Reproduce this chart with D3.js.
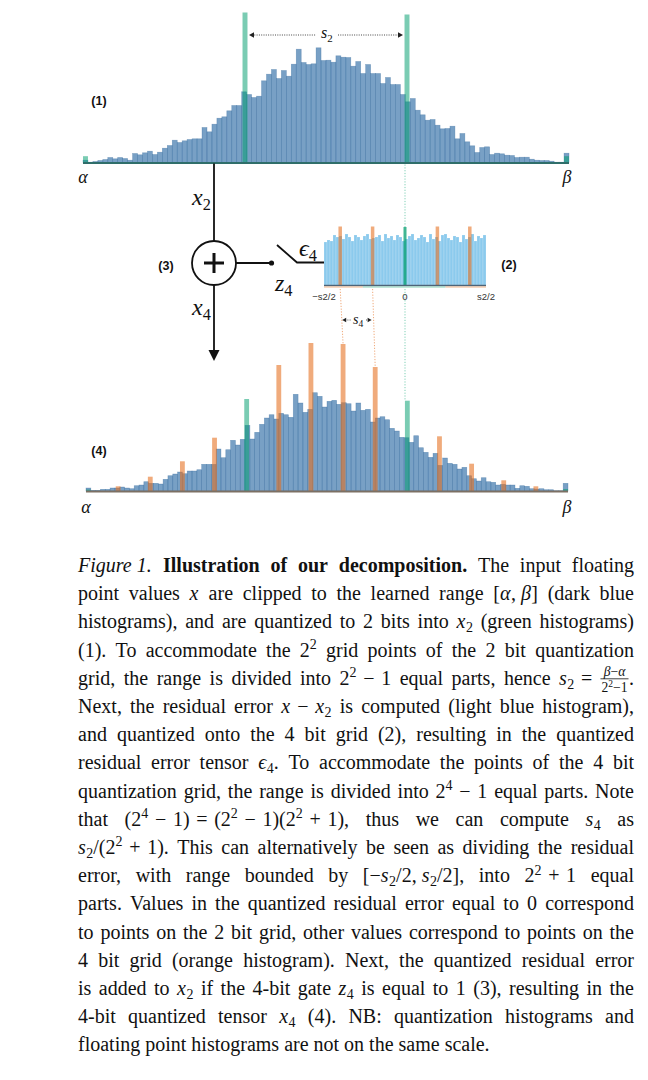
<!DOCTYPE html>
<html><head><meta charset="utf-8">
<script src="https://cdn.jsdelivr.net/npm/d3@7"></script>
<style>body{margin:0;background:#fff}svg{display:block}</style>
</head><body><svg id="c" width="648" height="1080"></svg>
<script>
// ---------------- data ----------------
// (1) floating point histogram, clipped to [alpha, beta]
const topCounts = [2.3,0.3,1,2,3,5,3.7,5,4,2.3,9,7.7,9.7,11.3,8,10.3,14.3,17,22.3,20,21.7,23,23.7,23.7,35,30.7,38.3,44.3,45.7,51.7,57,57,70.7,68,
 65,66.3,81.7,88.3,93,84,92,86.3,98.3,113.3,100,98,98.7,114.7,102,102.3,100.3,106.7,105.3,105,96.3,101,89,98,89,89,79,85,78,78,68,60.7,
 64,52.3,47.7,42.3,43,37.3,33.7,34,36.3,23.7,29,20.7,16.7,10,15,15.7,8,9.3,8.7,7.3,7,5,5.3,5.3,3.3,2.3,2,2,1.3,0.3,0.3,9.3];
const grid2Values = [0, 1/3, 2/3, 1];
const topGrid2Counts = [6.3, 150, 148, 6.3];

// (2) residual error histogram, range [-s2/2, s2/2] in units of s4
const residualCounts = [43,45,44,50,48,49,46,51,48,44,50,48,45,49,51,46,47,48,50,44,51,47,49,45,50,48,44,46,49,51,45,47,50,48,43,51,46,48,44,50,51,47,45,49,48,43,50,46,48,51,44,49,47,50];
const residualOrangeValues = [-2, -1, 1, 2];
const residualOrangeCounts = [58.5, 58.5, 58.5, 58.5];
const residualGreenValues = [0];
const residualGreenCounts = [58];
const residualTickLabels = ["\u2212s2/2", "0", "s2/2"];

// (4) 4-bit quantized histogram
const bottomCounts = [3,0.7,0.7,1.7,1.7,3,3,4,3,2.3,5.3,6,9.3,7.7,7.7,7,11.7,15.3,17,19,17.3,20,20,21.3,26.7,26.7,26.7,42,33.3,41.3,50.7,46,51.7,65.7,
 52,58.7,66.7,73,76.3,72,77.7,76.3,73.7,96.7,88,78.7,81.7,98.3,94.7,84,89.7,90.7,86.7,88.3,87.3,80,88,80.7,81.7,69,73,74.3,71.3,62.7,60,53.7,53.3,
 48.7,55.3,43.3,38.7,33.7,37.7,25.7,33,27.7,26.7,22,23.7,15.3,12.3,10,13.3,9.3,8.7,6,6.7,6,6,2.7,5.3,4.7,2.3,2,2.3,1.3,1.3,0.3,0.3,7.7];
const bottomGrid2Counts = [1.5, 92, 90.3, 2];
const grid4Steps = [1,2,3,4,6,7,8,9,11,12,13,14]; // k/15
const bottomGrid4Counts = [4.7,14.3,29.7,53.3,126,148,147,124,54.7,27.3,10.7,4.7];

// "~" = normal fixed space, "`" = math operator space
const captionLines = [
 "*Figure~1.* #Illustration of our decomposition.# The input floating",
 "point values *x* are clipped to the learned range [*α*,~*β*] (dark blue",
 "histograms), and are quantized to 2 bits into *x*_2 (green histograms)",
 "(1). To accommodate the 2^2 grid points of the 2 bit quantization",
 "grid, the range is divided into 2^2`−`1 equal parts, hence *s*_2`=`@.",
 "Next, the residual error *x*`−`*x*_2 is computed (light blue histogram),",
 "and quantized onto the 4 bit grid (2), resulting in the quantized",
 "residual error tensor *ϵ*_4. To accommodate the points of the 4 bit",
 "quantization grid, the range is divided into 2^4`−`1 equal parts. Note",
 "that (2^4`−`1)`=`(2^2`−`1)(2^2`+`1), thus we can compute *s*_4 as",
 "*s*_2/(2^2`+`1). This can alternatively be seen as dividing the residual",
 "error, with range bounded by [−*s*_2/2,~*s*_2/2], into 2^2`+`1 equal",
 "parts. Values in the quantized residual error equal to 0 correspond",
 "to points on the 2 bit grid, other values correspond to points on the",
 "4 bit grid (orange histogram). Next, the quantized residual error",
 "is added to *x*_2 if the 4-bit gate *z*_4 is equal to 1 (3), resulting in the",
 "4-bit quantized tensor *x*_4 (4). NB: quantization histograms and",
 "floating point histograms are not on the same scale."
];

// ---------------- styles ----------------
const BLUE = "#3f78ad", BLUE_OP = 0.7;
const GREEN = "#009e6e", GREEN_OP = 0.52;
const ORANGE = "#e66e1e", ORANGE_OP = 0.58;
const LBLUE = "#5ab4e5", LBLUE_OP = 0.7;
const SERIF = "'Liberation Serif','Times New Roman',serif";
const SANS = "'Liberation Sans',Arial,sans-serif";

const svg = d3.select("#c");

// ---------------- helpers ----------------
function histBars(g, counts, x, y) {
  const [d0, d1] = x.domain();
  const w = (d1 - d0) / counts.length;
  g.append("g").selectAll("rect").data(counts).join("rect")
    .attr("x", (d, i) => x(d0 + i * w))
    .attr("width", (d, i) => x(d0 + (i + 1) * w) - x(d0 + i * w))
    .attr("y", d => y(d)).attr("height", d => y(0) - y(d));
  return w;
}
function gridBars(g, values, counts, x, y, bw, color, op) {
  const [r0, r1] = x.range();
  g.append("g").selectAll("rect").data(values).join("rect")
    .attr("x", v => Math.max(r0, Math.min(r1 - bw, x(v) - bw / 2)))
    .attr("width", bw)
    .attr("y", (v, i) => y(counts[i])).attr("height", (v, i) => y(0) - y(counts[i]))
    .attr("fill", color).attr("fill-opacity", op);
}
function mathLabel(g, x, y, main, sub, fs) {
  const t = g.append("text").attr("x", x).attr("y", y)
    .attr("font-family", SERIF).attr("font-style", "italic").attr("font-size", fs).attr("fill", "#111");
  t.append("tspan").text(main);
  t.append("tspan").attr("font-style", "normal").attr("font-size", fs * 0.68).attr("dy", fs * 0.22).text(sub);
  return t;
}
function arrowHead(g, x, y, dir, size) {
  g.append("path").attr("d", `M${x},${y} l${-dir * size},${-size * 0.55} l0,${size * 1.1} Z`).attr("fill", "#222");
}
function boldLabel(x, y, t) {
  svg.append("text").attr("x", x).attr("y", y).attr("font-family", SANS).attr("font-weight", "bold")
    .attr("font-size", 12.5).attr("text-anchor", "middle").attr("fill", "#111").text(t);
}

// ---------------- (1) top histogram ----------------
const xTop = d3.scaleLinear().domain([0, 1]).range([83, 569]);
const yTop = d3.scaleLinear().domain([0, 150]).range([162.5, 12.5]);
const gT = svg.append("g");
const gTb = gT.append("g").attr("fill", BLUE).attr("fill-opacity", BLUE_OP)
  .attr("stroke", "#2c6498").attr("stroke-opacity", 0.45).attr("stroke-width", 0.6);
const wTop = histBars(gTb, topCounts, xTop, yTop);
const bwTop = xTop(wTop) - xTop(0);
gridBars(gT, grid2Values, topGrid2Counts, xTop, yTop, bwTop, GREEN, GREEN_OP);
gT.append("line").attr("x1", xTop(0)).attr("x2", xTop(1)).attr("y1", yTop(0) + 0.5).attr("y2", yTop(0) + 0.5)
  .attr("stroke", "#2f6e6a").attr("stroke-width", 2);

// ---------------- (4) bottom histogram ----------------
const xBot = d3.scaleLinear().domain([0, 1]).range([86, 568]);
const yBot = d3.scaleLinear().domain([0, 150]).range([491, 341]);
const gB = svg.append("g");
const gBb = gB.append("g").attr("fill", BLUE).attr("fill-opacity", BLUE_OP)
  .attr("stroke", "#2c6498").attr("stroke-opacity", 0.45).attr("stroke-width", 0.6);
const wBot = histBars(gBb, bottomCounts, xBot, yBot);
const bwBot = xBot(wBot) - xBot(0);
gridBars(gB, grid2Values, bottomGrid2Counts, xBot, yBot, bwBot, GREEN, GREEN_OP);
gridBars(gB, grid4Steps.map(k => k / 15), bottomGrid4Counts, xBot, yBot, bwBot, ORANGE, ORANGE_OP);
gB.append("line").attr("x1", xBot(0)).attr("x2", xBot(1)).attr("y1", yBot(0) + 0.5).attr("y2", yBot(0) + 0.5)
  .attr("stroke", "#7c7064").attr("stroke-width", 2);

// ---------------- (2) residual histogram ----------------
const xRes = d3.scaleLinear().domain([-2.5, 2.5]).range([324, 486]);
const yRes = d3.scaleLinear().domain([0, 60]).range([285, 225]);
const gR = svg.append("g");
const gRb = gR.append("g").attr("fill", LBLUE).attr("fill-opacity", LBLUE_OP)
  .attr("stroke", "#ffffff").attr("stroke-opacity", 0.35).attr("stroke-width", 0.5);
histBars(gRb, residualCounts, xRes, yRes);
gridBars(gR, residualOrangeValues, residualOrangeCounts, xRes, yRes, 3.5, ORANGE, ORANGE_OP);
gridBars(gR, residualGreenValues, residualGreenCounts, xRes, yRes, 3, GREEN, 0.75);
gR.append("line").attr("x1", xRes(-2.5)).attr("x2", xRes(2.5)).attr("y1", yRes(0) + 0.5).attr("y2", yRes(0) + 0.5)
  .attr("stroke", "#4d6478").attr("stroke-width", 1.5);
[[-2.5, -1.3, "#f0b48a"], [-1.3, 1.25, "#86cfb5"], [1.25, 2.5, "#f0b48a"]].forEach(([a, b, c]) => {
  gR.append("line").attr("x1", xRes(a)).attr("x2", xRes(b)).attr("y1", yRes(0) + 2).attr("y2", yRes(0) + 2)
    .attr("stroke", c).attr("stroke-width", 1.2);
});
const tickVals = [-2.5, 0, 2.5];
gR.selectAll("text.tk").data(residualTickLabels).join("text").attr("class", "tk")
  .attr("x", (d, i) => xRes(tickVals[i])).attr("y", 300).attr("text-anchor", "middle")
  .attr("font-family", SANS).attr("font-size", 9.5).attr("fill", "#333").text(d => d);

// ---------------- dotted connectors ----------------
const gD = svg.append("g").attr("fill", "none").attr("stroke-width", 1).attr("stroke-dasharray", "1.2,1.6");
gD.append("line").attr("x1", xRes(0)).attr("x2", xRes(0)).attr("y1", yTop(0) + 2).attr("y2", yRes(residualGreenCounts[0]))
  .attr("stroke", "#7fcfb5");
gD.append("line").attr("x1", xRes(0)).attr("x2", xRes(0)).attr("y1", yRes(0) + 4).attr("y2", yBot(bottomGrid2Counts[2]))
  .attr("stroke", "#7fcfb5");
[[-2, 8], [-1, 9]].forEach(([v, k]) => {
  gD.append("line").attr("x1", xRes(v)).attr("x2", xBot(k / 15)).attr("y1", yRes(0) + 4)
    .attr("y2", yBot(bottomGrid4Counts[grid4Steps.indexOf(k)])).attr("stroke", "#f0a878");
});

// ---------------- annotations ----------------
const gA = svg.append("g");
// s2 arrow
const s2y = 35, s2a = xTop(1 / 3) + 4, s2b = xTop(2 / 3) - 4;
gA.append("line").attr("x1", s2a + 3).attr("x2", 316).attr("y1", s2y).attr("y2", s2y).attr("stroke", "#333").attr("stroke-width", 0.9).attr("stroke-dasharray", "1,1.3");
gA.append("line").attr("x1", 338).attr("x2", s2b - 3).attr("y1", s2y).attr("y2", s2y).attr("stroke", "#333").attr("stroke-width", 0.9).attr("stroke-dasharray", "1,1.3");
arrowHead(gA, s2a, s2y, -1, 5);
arrowHead(gA, s2b, s2y, 1, 5);
mathLabel(gA, 321, 38, "s", "2", 16);
// s4 arrow
const s4y = 320, s4a = xRes(-2) + 2, s4b = xRes(-1) - 1;
gA.append("line").attr("x1", s4a + 3).attr("x2", 351).attr("y1", s4y).attr("y2", s4y).attr("stroke", "#333").attr("stroke-width", 0.8).attr("stroke-dasharray", "1,1.2");
gA.append("line").attr("x1", 366).attr("x2", s4b - 3).attr("y1", s4y).attr("y2", s4y).attr("stroke", "#333").attr("stroke-width", 0.8).attr("stroke-dasharray", "1,1.2");
arrowHead(gA, s4a, s4y, -1, 4);
arrowHead(gA, s4b, s4y, 1, 4);
mathLabel(gA, 353, 324, "s", "4", 14);

// alpha / beta labels
[[xTop(0), 183, "α"], [xTop(1) - 2, 183, "β"], [xBot(0), 513, "α"], [xBot(1) - 1, 513, "β"]].forEach(([x, y, t]) => {
  svg.append("text").attr("x", x).attr("y", y).attr("text-anchor", "middle").attr("font-family", SERIF)
    .attr("font-style", "italic").attr("font-size", 18).attr("fill", "#111").text(t);
});
boldLabel(99, 105, "(1)");
boldLabel(99, 455, "(4)");
boldLabel(166, 270, "(3)");
boldLabel(509, 269, "(2)");

// ---------------- diagram ----------------
const gG = svg.append("g").attr("stroke", "#111").attr("stroke-width", 1.8).attr("fill", "none");
const cx = 214, cy = 263, r = 22;
gG.append("line").attr("x1", cx).attr("x2", cx).attr("y1", yTop(0) + 1).attr("y2", cy - r);
gG.append("circle").attr("cx", cx).attr("cy", cy).attr("r", r);
gG.append("line").attr("x1", cx - 10).attr("x2", cx + 10).attr("y1", cy).attr("y2", cy).attr("stroke-width", 3);
gG.append("line").attr("x1", cx).attr("x2", cx).attr("y1", cy - 10).attr("y2", cy + 10).attr("stroke-width", 3);
gG.append("line").attr("x1", cx).attr("x2", cx).attr("y1", cy + r).attr("y2", 352);
svg.append("path").attr("d", `M${cx - 5.5},350 L${cx + 5.5},350 L${cx},361 Z`).attr("fill", "#111");
gG.append("line").attr("x1", cx + r).attr("x2", 271).attr("y1", cy).attr("y2", cy);
svg.append("circle").attr("cx", 271.5).attr("cy", cy).attr("r", 2.6).attr("fill", "#111");
gG.append("polyline").attr("points", `277,245 297,262.5 ${xRes(-2.5)},262.5`);
mathLabel(svg, 192, 205, "x", "2", 24);
mathLabel(svg, 192, 315, "x", "4", 24);
mathLabel(svg, 299, 256, "ϵ", "4", 24);
mathLabel(svg, 275, 291, "z", "4", 24);

// ---------------- caption ----------------
const FS = 20, L = 78, R = 634, Y0 = 572, LH = 28.2;
function parseLine(str) {
  const words = []; let cur = []; let it = false, bd = false, mode = null;
  for (const ch of str) {
    if (ch === "*") { it = !it; continue; }
    if (ch === "#") { bd = !bd; continue; }
    if (ch === "_") { mode = "sub"; continue; }
    if (ch === "^") { mode = "sup"; continue; }
    if (ch === " ") { if (cur.length) words.push(cur); cur = []; continue; }
    const t = ch === "~" ? "\u00a0" : (ch === "`" ? "\u2004" : ch);
    const last = cur[cur.length - 1];
    if (last && last.it === it && last.bd === bd && last.mode === mode && t !== "@" && last.t !== "@") last.t += t;
    else cur.push({ t, it, bd, mode });
    mode = null;
  }
  if (cur.length) words.push(cur);
  return words;
}
function runText(g, x, y, t, fs, it, bd) {
  return g.append("text").attr("x", x).attr("y", y).attr("font-family", SERIF).attr("font-size", fs)
    .attr("font-style", it ? "italic" : "normal").attr("font-weight", bd ? "bold" : "normal")
    .style("white-space", "pre").attr("fill", "#111").text(t);
}
function renderFraction(g, x) {
  const fs = FS * 0.68;
  const num = g.append("text").attr("y", -FS * 0.42).attr("font-family", SERIF).attr("font-size", fs).attr("fill", "#111").attr("text-anchor", "middle");
  num.append("tspan").attr("font-style", "italic").text("β");
  num.append("tspan").text("\u2212");
  num.append("tspan").attr("font-style", "italic").text("α");
  const den = g.append("text").attr("y", FS * 0.38).attr("font-family", SERIF).attr("font-size", fs).attr("fill", "#111").attr("text-anchor", "middle");
  den.append("tspan").text("2");
  den.append("tspan").attr("font-size", fs * 0.7).attr("dy", -fs * 0.38).text("2");
  den.append("tspan").attr("dy", fs * 0.38).text("\u2212" + "1");
  const w = Math.max(num.node().getComputedTextLength(), den.node().getComputedTextLength()) + 3;
  num.attr("x", x + w / 2); den.attr("x", x + w / 2);
  g.append("line").attr("x1", x + 0.5).attr("x2", x + w - 0.5).attr("y1", -FS * 0.3).attr("y2", -FS * 0.3)
    .attr("stroke", "#111").attr("stroke-width", 0.8);
  return w;
}
function renderWord(parent, runs) {
  const g = parent.append("g");
  let x = 0;
  runs.forEach(r => {
    if (r.t === "@") { x += renderFraction(g, x + 1) + 1; return; }
    let fs = FS, dy = 0;
    if (r.mode === "sub") { fs = FS * 0.7; dy = FS * 0.2; }
    if (r.mode === "sup") { fs = FS * 0.7; dy = -FS * 0.38; }
    const t = runText(g, x, dy, r.t, fs, r.it, r.bd);
    x += t.node().getComputedTextLength();
    if (r.it && !r.mode) x += 0.5;
  });
  return { g, w: x };
}
const gC = svg.append("g");
captionLines.forEach((str, li) => {
  const words = parseLine(str);
  const lg = gC.append("g");
  const ws = words.map(wd => renderWord(lg, wd));
  const total = d3.sum(ws, d => d.w);
  const justify = li < captionLines.length - 1;
  const gap = justify ? (R - L - total) / (ws.length - 1) : FS * 0.25;
  let x = L;
  const y = Y0 + li * LH;
  ws.forEach(d => { d.g.attr("transform", `translate(${x},${y})`); x += d.w + gap; });
});
</script>
</body></html>
